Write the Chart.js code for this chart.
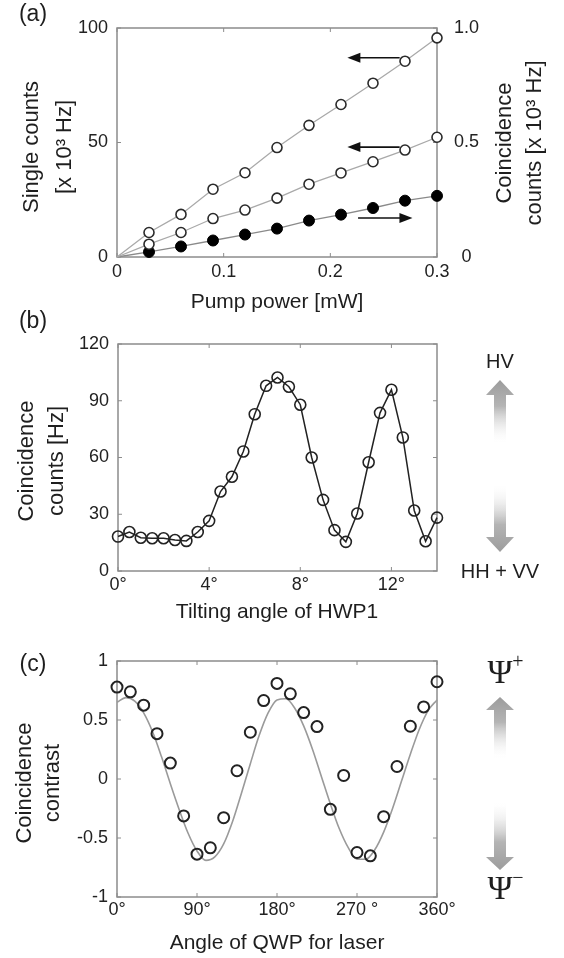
<!DOCTYPE html>
<html>
<head>
  <title>Coincidence measurements</title>
  <script src="https://cdn.jsdelivr.net/npm/chart.js@4/dist/chart.umd.min.js"></script>
  <style>
    body { margin: 0; background: #fff; }
    #wrap { position: relative; width: 564px; height: 958px; }
    #wrap canvas { position: absolute; left: 0; }
  </style>
</head>
<body>
<div id="wrap">
  <canvas id="chartA" style="top:0px;width:564px;height:315px" width="564" height="315"></canvas>
  <canvas id="chartB" style="top:300px;width:564px;height:330px" width="564" height="330"></canvas>
  <canvas id="chartC" style="top:625px;width:564px;height:333px" width="564" height="333"></canvas>
</div>
<script>
  // (a) pump power scan
  var pumpPower = [0, 0.03, 0.06, 0.09, 0.12, 0.15, 0.18, 0.21, 0.24, 0.27, 0.30];
  var singlesHigh = [0, 10.7, 18.6, 29.6, 36.8, 47.8, 57.5, 66.6, 75.9, 85.5, 95.7];
  var singlesLow = [0, 5.6, 10.7, 16.8, 20.5, 25.7, 31.8, 36.7, 41.6, 46.7, 52.3];
  var coincPump = [0, 0.022, 0.046, 0.072, 0.098, 0.124, 0.159, 0.185, 0.214, 0.246, 0.267];
  var pumpTicks = [0, 0.1, 0.2, 0.3];
  var pumpLabels = ['0', '0.1', '0.2', '0.3'];
  var singlesTicks = [0, 50, 100];
  var singlesLabels = ['0', '50', '100'];
  var coincTicksA = [0, 0.5, 1.0];
  var coincLabelsA = ['0', '0.5', '1.0'];

  // (b) HWP1 tilt scan
  var hwpAngle = [0, 0.5, 1, 1.5, 2, 2.5, 3, 3.5, 4, 4.5, 5, 5.5, 6, 6.5, 7, 7.5, 8, 8.5, 9, 9.5, 10, 10.5, 11, 11.5, 12, 12.5, 13, 13.5, 14];
  var coincHwp = [18.2, 20.6, 17.6, 17.3, 17.3, 16.4, 15.9, 20.6, 26.5, 42.0, 49.8, 63.2, 82.9, 97.9, 102.3, 97.4, 87.9, 60.0, 37.6, 21.6, 15.4, 30.4, 57.5, 83.6, 95.8, 70.6, 32.0, 15.7, 28.2];
  var hwpTicks = [0, 4, 8, 12];
  var hwpLabels = ['0°', '4°', '8°', '12°'];
  var coincTicksB = [0, 30, 60, 90, 120];
  var coincLabelsB = ['0', '30', '60', '90', '120'];

  // (c) QWP angle scan, measured points and fitted curve
  var qwpAngle = [0, 15, 30, 45, 60, 75, 90, 105, 120, 135, 150, 165, 180, 195, 210, 225, 240, 255, 270, 285, 300, 315, 330, 345, 360];
  var contrast = [0.779, 0.739, 0.626, 0.384, 0.135, -0.313, -0.637, -0.583, -0.328, 0.070, 0.396, 0.665, 0.810, 0.722, 0.563, 0.444, -0.257, 0.030, -0.623, -0.651, -0.319, 0.106, 0.447, 0.611, 0.824];
  var fitAngle = [0, 10, 20, 30, 40, 50, 60, 70, 80, 90, 100, 110, 120, 130, 140, 150, 160, 170, 180, 190, 200, 210, 220, 230, 240, 250, 260, 270, 280, 290, 300, 310, 320, 330, 340, 350, 360];
  var fitContrast = [0.65, 0.69, 0.66, 0.56, 0.40, 0.19, -0.04, -0.26, -0.46, -0.61, -0.69, -0.66, -0.55, -0.36, -0.12, 0.13, 0.37, 0.56, 0.67, 0.68, 0.60, 0.45, 0.25, 0.02, -0.21, -0.42, -0.58, -0.68, -0.68, -0.60, -0.45, -0.25, -0.02, 0.21, 0.42, 0.58, 0.67];
  var qwpTicks = [0, 90, 180, 270, 360];
  var qwpLabels = ['0°', '90°', '180°', '270 °', '360°'];
  var contrastTicks = [-1, -0.5, 0, 0.5, 1];
  var contrastLabels = ['-1', '-0.5', '0', '0.5', '1'];

  var FONT = "'Liberation Sans', Arial, sans-serif";
  Chart.defaults.font.family = FONT;
  Chart.defaults.color = '#222';
  Chart.defaults.animation = false;

  function pts(xs, ys) {
    return xs.map(function (x, i) { return { x: x, y: ys[i] }; });
  }

  // a linear axis with fixed ticks, no grid, fixed thickness
  function axis(opts) {
    return {
      type: 'linear',
      position: opts.position,
      min: opts.min,
      max: opts.max,
      grid: { display: false, drawTicks: false },
      border: { display: false },
      ticks: {
        font: { size: 18 },
        color: '#222',
        padding: opts.padding,
        crossAlign: opts.crossAlign || 'near',
        autoSkip: false,
        maxRotation: 0,
        callback: function (v, i) { return opts.labels[i]; }
      },
      afterBuildTicks: function (s) {
        s.ticks = opts.ticks.map(function (v) { return { value: v }; });
      },
      afterFit: function (s) {
        if (opts.position === 'bottom') s.height = opts.size; else s.width = opts.size;
      }
    };
  }

  function drawFrame(chart, xTicks, yTicks) {
    var ctx = chart.ctx, a = chart.chartArea;
    var xs = chart.scales.x, ys = chart.scales.y;
    ctx.save();
    ctx.strokeStyle = '#8c8c8c';
    ctx.lineWidth = 1.5;
    ctx.strokeRect(a.left, a.top, a.right - a.left, a.bottom - a.top);
    ctx.lineWidth = 1;
    ctx.beginPath();
    xTicks.forEach(function (v) {
      var p = xs.getPixelForValue(v);
      ctx.moveTo(p, a.bottom); ctx.lineTo(p, a.bottom - 4);
      ctx.moveTo(p, a.top); ctx.lineTo(p, a.top + 4);
    });
    yTicks.forEach(function (v) {
      var p = ys.getPixelForValue(v);
      ctx.moveTo(a.left, p); ctx.lineTo(a.left + 4, p);
      ctx.moveTo(a.right, p); ctx.lineTo(a.right - 4, p);
    });
    ctx.stroke();
    ctx.restore();
  }

  function text(ctx, t, x, y, size, font) {
    ctx.save();
    ctx.font = size + 'px ' + (font || FONT);
    ctx.fillStyle = '#1e1e1e';
    ctx.textAlign = 'center';
    ctx.textBaseline = 'middle';
    ctx.fillText(t, x, y);
    ctx.restore();
  }

  // rotated title, lines stacked left to right, read bottom to top
  function vTitle(ctx, lines, x0, dx, yc, size) {
    ctx.save();
    ctx.font = size + 'px ' + FONT;
    ctx.fillStyle = '#1e1e1e';
    ctx.textAlign = 'center';
    ctx.textBaseline = 'middle';
    lines.forEach(function (t, i) {
      ctx.save();
      ctx.translate(x0 + i * dx, yc);
      ctx.rotate(-Math.PI / 2);
      ctx.fillText(t, 0, 0);
      ctx.restore();
    });
    ctx.restore();
  }

  function blackArrow(ctx, x1, y1, x2, y2) {
    var dir = x2 > x1 ? 1 : -1;
    ctx.save();
    ctx.strokeStyle = '#111';
    ctx.fillStyle = '#111';
    ctx.lineWidth = 1.6;
    ctx.beginPath();
    ctx.moveTo(x1, y1);
    ctx.lineTo(x2 - dir * 10, y2);
    ctx.stroke();
    ctx.beginPath();
    ctx.moveTo(x2, y2);
    ctx.lineTo(x2 - dir * 13, y2 - 5);
    ctx.lineTo(x2 - dir * 13, y2 + 5);
    ctx.closePath();
    ctx.fill();
    ctx.restore();
  }

  // grey arrow whose shaft fades to white
  function fadeArrow(ctx, cx, tipY, baseY, endY) {
    var g = ctx.createLinearGradient(0, tipY, 0, endY);
    g.addColorStop(0, '#9c9c9c');
    g.addColorStop(0.4, '#b4b4b4');
    g.addColorStop(1, 'rgba(255,255,255,0)');
    ctx.save();
    ctx.fillStyle = g;
    ctx.beginPath();
    ctx.moveTo(cx, tipY);
    ctx.lineTo(cx + 14, baseY);
    ctx.lineTo(cx + 6, baseY);
    ctx.lineTo(cx + 6, endY);
    ctx.lineTo(cx - 6, endY);
    ctx.lineTo(cx - 6, baseY);
    ctx.lineTo(cx - 14, baseY);
    ctx.closePath();
    ctx.fill();
    ctx.restore();
  }

  function psi(ctx, x, y, sign) {
    ctx.save();
    ctx.fillStyle = '#1e1e1e';
    ctx.font = '34px "Liberation Serif", "DejaVu Serif", serif';
    ctx.textAlign = 'center';
    ctx.textBaseline = 'middle';
    ctx.fillText('Ψ', x, y);
    ctx.font = '20px "Liberation Serif", "DejaVu Serif", serif';
    ctx.fillText(sign, x + 18, y - 11);
    ctx.restore();
  }

  var baseOpts = { events: [], responsive: false, maintainAspectRatio: false };

  // ---------- (a) ----------
  new Chart(document.getElementById('chartA'), {
    type: 'scatter',
    data: {
      datasets: [
        {
          data: pts(pumpPower, singlesHigh), yAxisID: 'y', showLine: true, clip: false,
          borderColor: '#a9a9a9', borderWidth: 1.3,
          pointRadius: function (c) { return c.raw && c.raw.x === 0 ? 0 : 5; },
          pointBorderColor: '#2a2a2a', pointBackgroundColor: '#fff', pointBorderWidth: 1.6
        },
        {
          data: pts(pumpPower, singlesLow), yAxisID: 'y', showLine: true, clip: false,
          borderColor: '#a9a9a9', borderWidth: 1.3,
          pointRadius: function (c) { return c.raw && c.raw.x === 0 ? 0 : 5; },
          pointBorderColor: '#2a2a2a', pointBackgroundColor: '#fff', pointBorderWidth: 1.6
        },
        {
          data: pts(pumpPower, coincPump), yAxisID: 'y2', showLine: true, clip: false,
          borderColor: '#8a8a8a', borderWidth: 1.3,
          pointRadius: function (c) { return c.raw && c.raw.x === 0 ? 0 : 5.5; },
          pointBorderColor: '#000', pointBackgroundColor: '#000', pointBorderWidth: 1
        }
      ]
    },
    options: Object.assign({}, baseOpts, {
      layout: { padding: { top: 28, left: 0, right: 0, bottom: 0 } },
      plugins: { legend: { display: false }, tooltip: { enabled: false } },
      scales: {
        x: axis({ position: 'bottom', min: 0, max: 0.3, ticks: pumpTicks, labels: pumpLabels, padding: 4, size: 58 }),
        y: axis({ position: 'left', min: 0, max: 100, ticks: singlesTicks, labels: singlesLabels, padding: 9, size: 117 }),
        y2: axis({ position: 'right', min: 0, max: 1, ticks: coincTicksA, labels: coincLabelsA, padding: 17, size: 127, crossAlign: 'center' })
      }
    }),
    plugins: [{
      id: 'decorA',
      beforeDatasetsDraw: function (chart) { drawFrame(chart, pumpTicks, singlesTicks); },
      afterDraw: function (chart) {
        var ctx = chart.ctx, xs = chart.scales.x, ys = chart.scales.y;
        blackArrow(ctx, xs.getPixelForValue(0.265), ys.getPixelForValue(87), xs.getPixelForValue(0.216), ys.getPixelForValue(87));
        blackArrow(ctx, xs.getPixelForValue(0.265), ys.getPixelForValue(48), xs.getPixelForValue(0.216), ys.getPixelForValue(48));
        blackArrow(ctx, xs.getPixelForValue(0.226), ys.getPixelForValue(17), xs.getPixelForValue(0.277), ys.getPixelForValue(17));
        text(ctx, '(a)', 33, 15, 23);
        text(ctx, 'Pump power [mW]', 277, 302, 21);
        vTitle(ctx, ['Single counts', '[x 10³ Hz]'], 32, 33, 147, 22);
        vTitle(ctx, ['Coincidence', 'counts [x 10³ Hz]'], 505, 30, 143, 22);
      }
    }]
  });

  // ---------- (b) ----------
  new Chart(document.getElementById('chartB'), {
    type: 'scatter',
    data: {
      datasets: [{
        data: pts(hwpAngle, coincHwp), showLine: true, clip: false,
        borderColor: '#222', borderWidth: 1.5,
        pointRadius: 5.5, pointBorderColor: '#222', pointBackgroundColor: 'rgba(0,0,0,0)', pointBorderWidth: 1.6
      }]
    },
    options: Object.assign({}, baseOpts, {
      layout: { padding: { top: 44, left: 0, right: 127, bottom: 0 } },
      plugins: { legend: { display: false }, tooltip: { enabled: false } },
      scales: {
        x: axis({ position: 'bottom', min: 0, max: 14, ticks: hwpTicks, labels: hwpLabels, padding: 3, size: 59 }),
        y: axis({ position: 'left', min: 0, max: 120, ticks: coincTicksB, labels: coincLabelsB, padding: 9, size: 118 })
      }
    }),
    plugins: [{
      id: 'decorB',
      beforeDatasetsDraw: function (chart) { drawFrame(chart, hwpTicks, coincTicksB); },
      afterDraw: function (chart) {
        var ctx = chart.ctx;
        text(ctx, '(b)', 33, 22, 23);
        text(ctx, 'Tilting angle of HWP1', 277, 312, 21);
        vTitle(ctx, ['Coincidence', 'counts [Hz]'], 27, 30, 161, 22);
        text(ctx, 'HV', 500, 62, 20);
        text(ctx, 'HH + VV', 500, 272, 20);
        fadeArrow(ctx, 500, 80, 95, 145);
        fadeArrow(ctx, 500, 252, 237, 183);
      }
    }]
  });

  // ---------- (c) ----------
  new Chart(document.getElementById('chartC'), {
    type: 'scatter',
    data: {
      datasets: [
        {
          data: pts(qwpAngle, contrast), showLine: false, clip: false,
          pointRadius: 5.5, pointBorderColor: '#222', pointBackgroundColor: 'rgba(0,0,0,0)', pointBorderWidth: 2
        },
        {
          data: pts(fitAngle, fitContrast), showLine: true, clip: false,
          borderColor: '#9a9a9a', borderWidth: 1.6, pointRadius: 0,
          cubicInterpolationMode: 'monotone'
        }
      ]
    },
    options: Object.assign({}, baseOpts, {
      layout: { padding: { top: 36, left: 0, right: 127, bottom: 0 } },
      plugins: { legend: { display: false }, tooltip: { enabled: false } },
      scales: {
        x: axis({ position: 'bottom', min: 0, max: 360, ticks: qwpTicks, labels: qwpLabels, padding: 2, size: 61 }),
        y: axis({ position: 'left', min: -1, max: 1, ticks: contrastTicks, labels: contrastLabels, padding: 9, size: 117 })
      }
    }),
    plugins: [{
      id: 'decorC',
      beforeDatasetsDraw: function (chart) { drawFrame(chart, qwpTicks, contrastTicks); },
      afterDraw: function (chart) {
        var ctx = chart.ctx;
        text(ctx, '(c)', 33, 40, 23);
        text(ctx, 'Angle of QWP for laser', 277, 318, 21);
        vTitle(ctx, ['Coincidence', 'contrast'], 25, 28, 158, 22);
        psi(ctx, 500, 49, '+');
        psi(ctx, 500, 265, '−');
        fadeArrow(ctx, 500, 72, 85, 135);
        fadeArrow(ctx, 500, 245, 232, 175);
      }
    }]
  });
</script>
</body>
</html>
